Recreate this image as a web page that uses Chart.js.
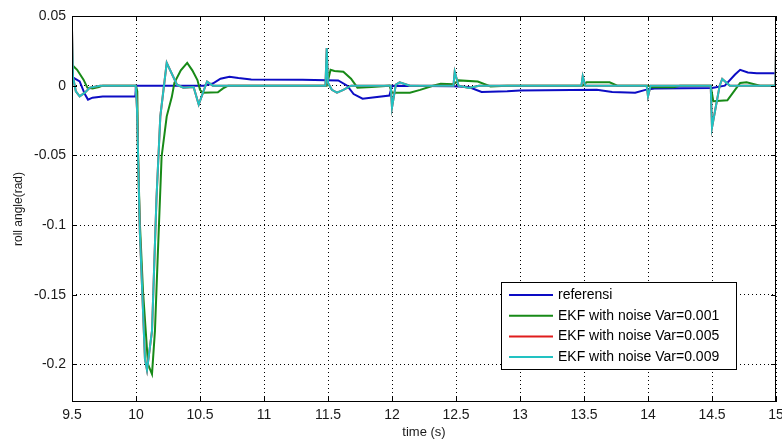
<!DOCTYPE html>
<html>
<head>
<meta charset="utf-8">
<title>roll angle</title>
<script src="https://cdn.jsdelivr.net/npm/chart.js@4.4.0/dist/chart.umd.min.js"></script>
<style>
  html, body { margin: 0; padding: 0; background: #fff; }
</style>
</head>
<body>
<canvas id="grafica" width="782" height="444"></canvas>
<script>
// ejes
const xTicks = [9.5, 10, 10.5, 11, 11.5, 12, 12.5, 13, 13.5, 14, 14.5, 15];
const yTicks = [-0.2, -0.15, -0.1, -0.05, 0, 0.05];
const xMin = 9.5, xMax = 15;
const yMin = -0.227, yMax = 0.05;

const etiquetas = ['referensi', 'EKF with noise Var=0.001', 'EKF with noise Var=0.005', 'EKF with noise Var=0.009'];

// referensi
const refT = [9.5, 9.56, 9.6, 9.625, 9.66, 9.74, 9.995, 10.0, 10.53, 10.6, 10.66, 10.73, 10.8, 10.9, 11.3, 11.58, 11.65, 11.7, 11.77, 11.85, 11.98, 12.0,
  12.48, 12.6, 12.7, 12.9, 13.0, 13.6, 13.72, 13.9, 13.98, 14.05, 14.5, 14.6, 14.68, 14.72, 14.78, 14.85, 15.0];
const refV = [0.0064, 0.003, -0.006, -0.010, -0.0086, -0.0078, -0.0078, 0, 0, 0.0015, 0.005, 0.0064, 0.0055, 0.0045, 0.0043, 0.0038, 0.0, -0.006, -0.0093, -0.0085, -0.0071, 0,
  -0.0005, -0.001, -0.0045, -0.004, -0.0035, -0.003, -0.0045, -0.005, -0.003, -0.002, -0.0017, 0, 0.008, 0.0114, 0.0095, 0.009, 0.009];

// EKF Var=0.001
const var1T = [9.5, 9.54, 9.59, 9.62, 9.66, 9.71, 9.74, 10.0, 10.01, 10.016, 10.03, 10.055, 10.094, 10.125, 10.148, 10.17, 10.2, 10.24, 10.28, 10.3, 10.35, 10.4,
  10.44, 10.48, 10.5, 10.52, 10.64, 10.68, 10.72, 11.49, 11.52, 11.55, 11.62, 11.68, 11.73, 11.84, 11.98, 12.0, 12.14, 12.22, 12.32, 12.38, 12.48,
  12.52, 12.67, 12.77, 12.9, 13.49, 13.52, 13.7, 13.76, 14.0, 14.03, 14.2, 14.25, 14.49, 14.51, 14.62, 14.68, 14.72, 14.77, 14.875, 15.0];
const var1V = [0.015, 0.0114, 0.0043, -0.0014, -0.002, -0.001, 0, 0, -0.004, -0.05, -0.098, -0.148, -0.2, -0.207, -0.176, -0.122, -0.051, -0.022, -0.008, 0.002, 0.011, 0.0164,
  0.011, 0.004, -0.003, -0.005, -0.0048, -0.002, 0, 0, 0.0114, 0.0105, 0.01, 0.005, -0.0014, -0.001, 0, -0.005, -0.005, -0.003, 0, 0.0014, 0.001,
  0.0038, 0.003, -0.0005, 0, 0, 0.0024, 0.0024, 0, 0, -0.0012, -0.0012, 0, 0, -0.0112, -0.0105, -0.003, 0.002, 0.0024, 0, 0];

// EKF Var=0.005 (casi igual que 0.009, queda debajo)
const var5T = [9.5, 9.508, 9.53, 9.56, 9.6, 9.64, 9.72, 9.998, 10.008, 10.03, 10.07, 10.086, 10.125, 10.16, 10.19, 10.24, 10.32, 10.37, 10.45, 10.49, 10.555,
  10.6, 11.48, 11.49, 11.5, 11.53, 11.57, 11.62, 11.68, 11.99, 12.0, 12.03, 12.06, 12.14, 12.48, 12.49, 12.52, 12.6, 12.68, 13.48, 13.49, 13.51,
  13.99, 14.0, 14.02, 14.49, 14.5, 14.56, 14.58, 14.64, 14.995, 15.0];
const var5V = [0.04, 0.006, -0.004, -0.0076, -0.005, -0.0014, 0, 0, -0.017, -0.105, -0.196, -0.204, -0.176, -0.081, -0.022, 0.0164, 0.0007, -0.0014, -0.001, -0.0136, 0.003,
  0, 0, 0.027, 0.002, -0.003, -0.005, -0.003, 0, 0, -0.0157, 0.0007, 0.0024, 0, 0, 0.01, 0, -0.0017, 0, 0, 0.0067, 0,
  0, -0.0076, 0, 0, -0.030, 0, 0.0048, 0, 0, 0.028];

// EKF Var=0.009
const var9T = [9.5, 9.508, 9.53, 9.56, 9.6, 9.64, 9.72, 9.998, 10.008, 10.03, 10.07, 10.086, 10.125, 10.16, 10.19, 10.24, 10.32, 10.37, 10.45, 10.49, 10.555,
  10.6, 11.48, 11.49, 11.5, 11.53, 11.57, 11.62, 11.68, 11.99, 12.0, 12.03, 12.06, 12.14, 12.48, 12.49, 12.52, 12.6, 12.68, 13.48, 13.49, 13.51,
  13.99, 14.0, 14.02, 14.49, 14.5, 14.56, 14.58, 14.64, 14.995, 15.0];
const var9V = [0.04, 0.006, -0.004, -0.0076, -0.005, -0.0014, 0, 0, -0.017, -0.105, -0.196, -0.204, -0.176, -0.081, -0.022, 0.0164, 0.0007, -0.0014, -0.001, -0.0136, 0.003,
  0, 0, 0.027, 0.002, -0.003, -0.005, -0.003, 0, 0, -0.0157, 0.0007, 0.0024, 0, 0, 0.01, 0, -0.0017, 0, 0, 0.0067, 0,
  0, -0.0076, 0, 0, -0.030, 0, 0.0048, 0, 0, 0.028];

const colores = ['#0c0cc4', '#178a17', '#e01c1c', '#22c2c2'];

function puntos(t, v) {
  return t.map((x, i) => ({ x: x, y: v[i] }));
}

function serie(i, t, v, orden) {
  return {
    label: etiquetas[i],
    data: puntos(t, v),
    borderColor: colores[i],
    backgroundColor: colores[i],
    borderWidth: 2,
    pointRadius: 0,
    tension: 0,
    order: orden
  };
}

function numero(v) {
  return String(+Number(v).toFixed(2));
}

// marco tipo matlab con ticks hacia dentro + leyenda
const marco = {
  id: 'marco',
  afterDraw(chart) {
    const ctx = chart.ctx;
    const a = chart.chartArea;
    const sx = chart.scales.x, sy = chart.scales.y;
    ctx.save();
    ctx.strokeStyle = '#000';
    ctx.lineWidth = 1;
    ctx.setLineDash([]);
    ctx.strokeRect(a.left + 0.5, a.top + 0.5, a.right - a.left - 1, a.bottom - a.top - 1);
    ctx.beginPath();
    xTicks.forEach(v => {
      const px = Math.round(sx.getPixelForValue(v)) + 0.5;
      ctx.moveTo(px, a.bottom); ctx.lineTo(px, a.bottom - 5);
      ctx.moveTo(px, a.top); ctx.lineTo(px, a.top + 5);
    });
    yTicks.forEach(v => {
      const py = Math.round(sy.getPixelForValue(v)) + 0.5;
      ctx.moveTo(a.left, py); ctx.lineTo(a.left + 5, py);
      ctx.moveTo(a.right, py); ctx.lineTo(a.right - 5, py);
    });
    ctx.stroke();

    // leyenda
    const w = 235, h = 87;
    const lx = a.right - 40 - w, ly = a.bottom - 33 - h;
    ctx.fillStyle = '#fff';
    ctx.fillRect(lx, ly, w, h);
    ctx.strokeRect(lx + 0.5, ly + 0.5, w, h);
    ctx.font = '14px "Liberation Sans", Arial, sans-serif';
    ctx.textBaseline = 'middle';
    etiquetas.forEach((txt, i) => {
      const y = ly + 13 + i * 20.7;
      ctx.beginPath();
      ctx.strokeStyle = colores[i];
      ctx.lineWidth = 2;
      ctx.moveTo(lx + 8, y);
      ctx.lineTo(lx + 52, y);
      ctx.stroke();
      ctx.fillStyle = '#000';
      ctx.fillText(txt, lx + 57, y);
    });
    ctx.restore();
  }
};

Chart.defaults.font.family = '"Liberation Sans", Arial, sans-serif';
Chart.defaults.color = '#1a1a1a';

new Chart(document.getElementById('grafica'), {
  type: 'line',
  data: {
    datasets: [
      serie(0, refT, refV, 3),
      serie(1, var1T, var1V, 2),
      serie(2, var5T, var5V, 1),
      serie(3, var9T, var9V, 0)
    ]
  },
  options: {
    responsive: false,
    animation: false,
    layout: { padding: { left: 0, right: 6, top: 16, bottom: 0 } },
    plugins: {
      legend: { display: false },
      tooltip: { enabled: false }
    },
    scales: {
      x: {
        type: 'linear',
        min: xMin,
        max: xMax,
        afterBuildTicks: s => { s.ticks = xTicks.map(v => ({ value: v })); },
        afterFit: s => { s.height = 42; s.paddingLeft = 0; s.paddingRight = 0; },
        grid: { color: '#000', lineWidth: 1, drawTicks: false },
        border: { display: false, dash: [1, 3] },
        ticks: { font: { size: 14 }, padding: 5, maxRotation: 0, autoSkip: false, callback: v => numero(v) },
        title: { display: true, text: 'time (s)', font: { size: 13 }, padding: { top: 0, bottom: 4 } }
      },
      y: {
        type: 'linear',
        min: yMin,
        max: yMax,
        afterBuildTicks: s => { s.ticks = yTicks.map(v => ({ value: v })); },
        afterFit: s => { s.width = 72; s.paddingTop = 0; s.paddingBottom = 0; },
        grid: { color: '#000', lineWidth: 1, drawTicks: false },
        border: { display: false, dash: [1, 3] },
        ticks: { font: { size: 14 }, padding: 6, autoSkip: false, callback: v => numero(v) },
        title: { display: true, text: 'roll angle(rad)', font: { size: 12 }, padding: { top: 11, bottom: 0 } }
      }
    }
  },
  plugins: [marco]
});
</script>
</body>
</html>
